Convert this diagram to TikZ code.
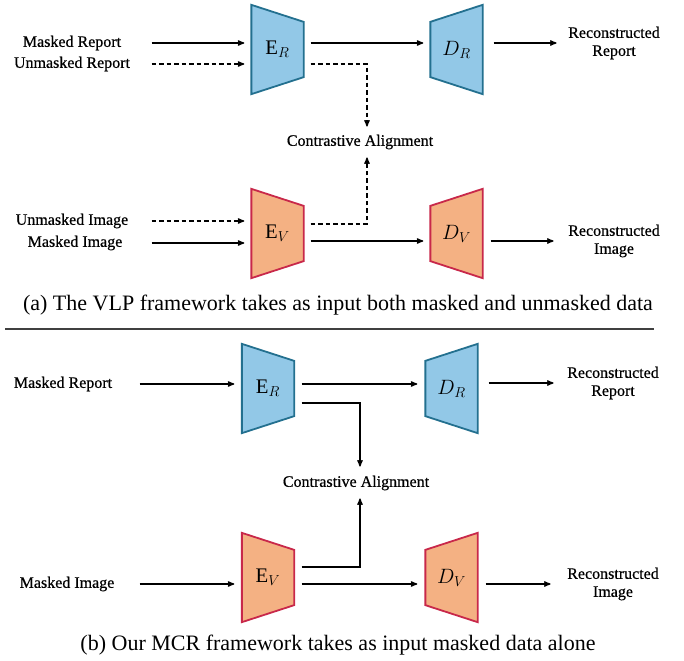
\documentclass[tikz,border=0pt]{standalone}
\usepackage{fontspec}
\setmainfont{Liberation Serif}
\newfontfamily\lblfont{Liberation Serif}[FakeBold=0.6]
\usetikzlibrary{arrows,positioning,backgrounds}

\definecolor{repfill}{HTML}{92C8E7}
\definecolor{repline}{HTML}{23708F}
\definecolor{imgfill}{HTML}{F4B183}
\definecolor{imgline}{HTML}{C8284A}
\definecolor{rulegray}{HTML}{404040}

\begin{document}
\begin{tikzpicture}[x=1pt,y=-1pt,->,>=stealth',line width=1.3pt,
    every node/.style={inner sep=0pt,font=\lblfont\fontsize{16}{18}\selectfont}]
  \tikzstyle{block}=[minimum width=51pt,minimum height=88pt,font=\huge]
  \tikzstyle{inp}=[align=center]
  \tikzstyle{rep}=[draw=repline,fill=repfill,line width=1.8pt]
  \tikzstyle{img}=[draw=imgline,fill=imgfill,line width=1.8pt]
  \tikzstyle{flowarr}=[shorten <=7pt,shorten >=7pt]
  \tikzstyle{dsh}=[dash pattern=on 4.5pt off 3pt]
  \tikzstyle{captext}=[font=\rmfamily\fontsize{22}{26}\selectfont]

  \useasboundingbox (0,0) rectangle (684,660);

  % (a) masked and unmasked inputs
  \node[block] (ERa) at (277.5,49.5)  {$\mathrm{E}_R$};
  \node[block] (DRa) at (456.5,49.5)  {$D_R$};
  \node[block] (EVa) at (277.5,233.5) {$\mathrm{E}_V$};
  \node[block] (DVa) at (456.5,233.5) {$D_V$};

  \node[inp,minimum width=158pt] (mra) at (72,43)  {Masked Report};
  \node[inp,minimum width=158pt] (ura) at (72,64)  {Unmasked Report};
  \node[inp,minimum width=158pt] (uia) at (72,221) {Unmasked Image};
  \node[inp,minimum width=152pt] (mia) at (75,243) {Masked Image};
  \node[inp] (reca) at (614,43)  {Reconstructed\\Report};
  \node[inp] (reia) at (614,241) {Reconstructed\\Image};
  \node (caa) at (360,142) {Contrastive Alignment};
  \node[captext] (capa) at (338,305)
    {(a) The VLP framework takes as input both masked and unmasked data};

  \path (mra.east) edge[shorten >=7pt] (mra.east -| ERa.west)
        (ura.east) edge[dsh,shorten >=7pt] (ura.east -| ERa.west)
        (uia.east) edge[dsh,shorten >=7pt] (uia.east -| EVa.west)
        (mia.east) edge[shorten >=7pt] (mia.east -| EVa.west)
        ([yshift=6.5pt]ERa.east) edge[flowarr] ([yshift=6.5pt]DRa.west)
        ([yshift=-7.5pt]EVa.east) edge[flowarr] ([yshift=-7.5pt]DVa.west)
        (DRa.east |- reca) edge[shorten <=11pt,shorten >=11pt] (reca.west)
        (DVa.east |- reia) edge[shorten <=8pt,shorten >=14pt] (reia.west);
  \draw[dsh,shorten <=7pt,shorten >=7.5pt]
    ([yshift=-14.5pt]ERa.east) -| ([xshift=7pt]caa.north);
  \draw[dsh,shorten <=7pt,shorten >=7.5pt]
    ([yshift=9.5pt]EVa.east) -| ([xshift=7pt]caa.south);

  \draw[-,draw=rulegray,line width=1.4pt] (5,329) -- (654,329);

  % (b) masked inputs only
  \node[block] (ERb) at (268,388.5)   {$\mathrm{E}_R$};
  \node[block] (DRb) at (451.5,388.5) {$D_R$};
  \node[block] (EVb) at (268,577.5)   {$\mathrm{E}_V$};
  \node[block] (DVb) at (451.5,577.5) {$D_V$};

  \node[inp,minimum width=152pt] (mrb) at (63,384) {Masked Report};
  \node[inp,minimum width=144pt] (mib) at (67,584) {Masked Image};
  \node[inp] (recb) at (613,383) {Reconstructed\\Report};
  \node[inp] (reib) at (613,584) {Reconstructed\\Image};
  \node (cab) at (356,483) {Contrastive Alignment};
  \node[captext] (capb) at (338,645)
    {(b) Our MCR framework takes as input masked data alone};

  \path (mrb.east) edge[shorten >=7.5pt] (mrb.east -| ERb.west)
        (mib.east) edge[shorten >=7.5pt] (mib.east -| EVb.west)
        ([yshift=4.5pt]ERb.east) edge[shorten <=7.5pt,shorten >=8pt] ([yshift=4.5pt]DRb.west)
        ([yshift=-6.5pt]EVb.east) edge[shorten <=7.5pt,shorten >=8pt] ([yshift=-6.5pt]DVb.west)
        (DRb.east |- recb) edge[shorten <=11pt,shorten >=13pt] (recb.west)
        (DVb.east |- reib) edge[shorten <=8pt,shorten >=16pt] (reib.west);
  \draw[shorten <=7.5pt,shorten >=8.5pt]
    ([yshift=-14.5pt]ERb.east) -| ([xshift=4pt]cab.north);
  \draw[shorten <=7.5pt,shorten >=7.5pt]
    ([yshift=10.5pt]EVb.east) -| ([xshift=4pt]cab.south);

  % trapezoid bodies behind the labels
  \begin{scope}[on background layer,-]
    \foreach \n/\s in {ERa/rep,EVa/img,ERb/rep,EVb/img}
      \draw[\s] (\n.north west) -- ([yshift=-17pt]\n.north east)
        -- ([yshift=17pt]\n.south east) -- (\n.south west) -- cycle;
    \foreach \n/\s in {DRa/rep,DVa/img,DRb/rep,DVb/img}
      \draw[\s] ([yshift=-17pt]\n.north west) -- (\n.north east)
        -- (\n.south east) -- ([yshift=17pt]\n.south west) -- cycle;
  \end{scope}
\end{tikzpicture}
\end{document}
